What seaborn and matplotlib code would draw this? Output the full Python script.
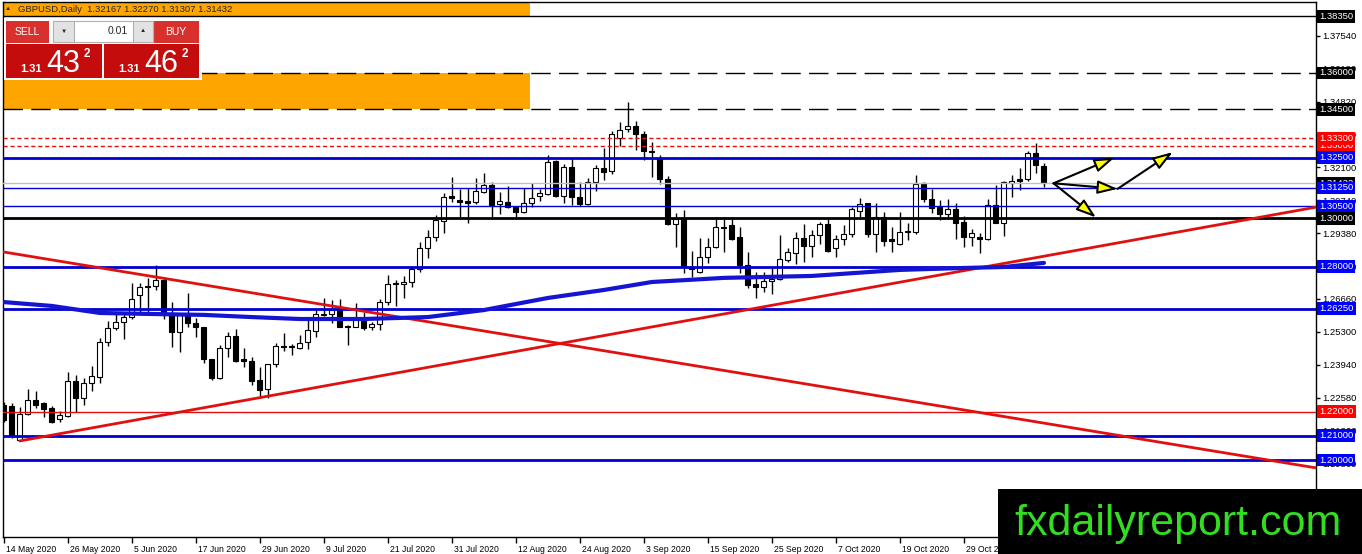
import numpy as np
import pandas as pd
import seaborn as sns
import matplotlib.pyplot as plt
from matplotlib.patches import Rectangle
from matplotlib import transforms

sns.set_style("white")
plt.rcParams['font.family'] = ['Liberation Sans', 'DejaVu Sans']

W, H = 1362, 554

# daily GBPUSD candles, 14 May 2020 .. 12 Nov 2020
opens = [1.2228, 1.2223, 1.2083, 1.2190, 1.2248, 1.2236, 1.2215, 1.2170, 1.2182, 1.2327,
         1.2257, 1.2319, 1.2343, 1.2488, 1.2546, 1.2571, 1.2591, 1.2682, 1.2720, 1.2720,
         1.2744, 1.2600, 1.2529, 1.2600, 1.2567, 1.2550, 1.2418, 1.2339, 1.2463, 1.2513,
         1.2418, 1.2409, 1.2331, 1.2294, 1.2397, 1.2472, 1.2467, 1.2463, 1.2488, 1.2534,
         1.2600, 1.2604, 1.2633, 1.2554, 1.2550, 1.2579, 1.2550, 1.2562, 1.2653, 1.2732,
         1.2728, 1.2736, 1.2790, 1.2877, 1.2922, 1.2988, 1.3092, 1.3075, 1.3071, 1.3067,
         1.3108, 1.3137, 1.3059, 1.3067, 1.3046, 1.3025, 1.3063, 1.3092, 1.3100, 1.3236,
         1.3092, 1.3211, 1.3087, 1.3059, 1.3149, 1.3207, 1.3195, 1.3331, 1.3369, 1.3381,
         1.3348, 1.3278, 1.3249, 1.3162, 1.2976, 1.3001, 1.2798, 1.2777, 1.2839, 1.2881,
         1.2963, 1.2972, 1.2922, 1.2806, 1.2728, 1.2715, 1.2740, 1.2748, 1.2827, 1.2856,
         1.2918, 1.2885, 1.2930, 1.2976, 1.2877, 1.2914, 1.2934, 1.3030, 1.3063, 1.2934,
         1.3005, 1.2914, 1.2893, 1.2943, 1.2943, 1.3145, 1.3079, 1.3046, 1.3017, 1.3038,
         1.2984, 1.2922, 1.2922, 1.2914, 1.3054, 1.2980, 1.3145, 1.3162, 1.3162, 1.3269,
         1.32167]
highs = [1.2240, 1.2236, 1.2219, 1.2294, 1.2285, 1.2240, 1.2223, 1.2203, 1.2364, 1.2352,
         1.2339, 1.2389, 1.2505, 1.2575, 1.2612, 1.2612, 1.2732, 1.2732, 1.2753, 1.2806,
         1.2753, 1.2653, 1.2600, 1.2691, 1.2587, 1.2550, 1.2418, 1.2476, 1.2529, 1.2542,
         1.2463, 1.2426, 1.2385, 1.2399, 1.2484, 1.2525, 1.2480, 1.2517, 1.2591, 1.2620,
         1.2670, 1.2662, 1.2666, 1.2558, 1.2649, 1.2612, 1.2571, 1.2666, 1.2765, 1.2744,
         1.2761, 1.2798, 1.2901, 1.2951, 1.3013, 1.3104, 1.3170, 1.3121, 1.3125, 1.3166,
         1.3187, 1.3149, 1.3108, 1.3133, 1.3050, 1.3125, 1.3145, 1.3121, 1.3261, 1.3240,
         1.3224, 1.3249, 1.3149, 1.3166, 1.3220, 1.3290, 1.3360, 1.3398, 1.3480, 1.3402,
         1.3360, 1.3315, 1.3261, 1.3174, 1.3021, 1.3034, 1.2864, 1.2918, 1.2918, 1.2997,
         1.2997, 1.2997, 1.2963, 1.2860, 1.2777, 1.2777, 1.2798, 1.2930, 1.2877, 1.2943,
         1.2976, 1.2951, 1.2984, 1.2997, 1.2930, 1.2972, 1.3046, 1.3083, 1.3063, 1.3063,
         1.3025, 1.2963, 1.3025, 1.2980, 1.3178, 1.3149, 1.3121, 1.3075, 1.3079, 1.3063,
         1.3009, 1.2955, 1.2939, 1.3079, 1.3137, 1.3154, 1.3178, 1.3207, 1.3278, 1.3311,
         1.32270]
lows = [1.2157, 1.2091, 1.2079, 1.2186, 1.2215, 1.2178, 1.2153, 1.2157, 1.2178, 1.2199,
        1.2228, 1.2285, 1.2319, 1.2472, 1.2538, 1.2500, 1.2583, 1.2608, 1.2608, 1.2703,
        1.2583, 1.2467, 1.2447, 1.2550, 1.2509, 1.2401, 1.2331, 1.2335, 1.2426, 1.2405,
        1.2385, 1.2310, 1.2257, 1.2257, 1.2385, 1.2451, 1.2434, 1.2459, 1.2459, 1.2509,
        1.2596, 1.2567, 1.2548, 1.2476, 1.2548, 1.2538, 1.2538, 1.2538, 1.2641, 1.2637,
        1.2670, 1.2715, 1.2777, 1.2835, 1.2906, 1.2939, 1.3067, 1.3001, 1.2980, 1.3059,
        1.3104, 1.3005, 1.3017, 1.3042, 1.3005, 1.3021, 1.3046, 1.3071, 1.3096, 1.3087,
        1.3063, 1.3054, 1.3050, 1.3054, 1.3112, 1.3158, 1.3183, 1.3298, 1.3356, 1.3282,
        1.3240, 1.3170, 1.3141, 1.2972, 1.2881, 1.2773, 1.2757, 1.2773, 1.2815, 1.2877,
        1.2860, 1.2910, 1.2773, 1.2711, 1.2670, 1.2695, 1.2686, 1.2744, 1.2819, 1.2811,
        1.2819, 1.2839, 1.2893, 1.2860, 1.2839, 1.2889, 1.2922, 1.3005, 1.2922, 1.2860,
        1.2885, 1.2860, 1.2889, 1.2910, 1.2934, 1.3067, 1.3021, 1.2992, 1.3005, 1.2914,
        1.2881, 1.2885, 1.2856, 1.2910, 1.2980, 1.2926, 1.3087, 1.3116, 1.3154, 1.3187,
        1.31307]
closes = [1.2166, 1.2104, 1.2190, 1.2248, 1.2228, 1.2211, 1.2157, 1.2186, 1.2327, 1.2257,
          1.2319, 1.2347, 1.2488, 1.2546, 1.2571, 1.2591, 1.2666, 1.2715, 1.2715, 1.2744,
          1.2600, 1.2529, 1.2600, 1.2567, 1.2550, 1.2418, 1.2339, 1.2463, 1.2513, 1.2409,
          1.2409, 1.2327, 1.2290, 1.2397, 1.2472, 1.2467, 1.2472, 1.2484, 1.2538, 1.2604,
          1.2604, 1.2620, 1.2550, 1.2550, 1.2587, 1.2546, 1.2562, 1.2653, 1.2728, 1.2728,
          1.2736, 1.2790, 1.2877, 1.2922, 1.2992, 1.3087, 1.3083, 1.3067, 1.3063, 1.3112,
          1.3137, 1.3054, 1.3071, 1.3046, 1.3025, 1.3063, 1.3083, 1.3104, 1.3232, 1.3092,
          1.3211, 1.3087, 1.3059, 1.3149, 1.3207, 1.3191, 1.3348, 1.3364, 1.3381, 1.3348,
          1.3278, 1.3273, 1.3162, 1.2976, 1.2997, 1.2802, 1.2790, 1.2839, 1.2881, 1.2963,
          1.2959, 1.2914, 1.2806, 1.2724, 1.2715, 1.2740, 1.2748, 1.2831, 1.2860, 1.2918,
          1.2885, 1.2930, 1.2976, 1.2864, 1.2914, 1.2934, 1.3038, 1.3059, 1.2934, 1.3005,
          1.2906, 1.2906, 1.2943, 1.2947, 1.3141, 1.3079, 1.3042, 1.3017, 1.3038, 1.2980,
          1.2922, 1.2939, 1.2914, 1.3054, 1.2980, 1.3149, 1.3154, 1.3154, 1.3269, 1.3220,
          1.31432]

date_ticks = [0, 8, 16, 24, 32, 40, 48, 56, 64, 72, 80, 88, 96, 104, 112, 120]
date_labels = ["14 May 2020", "26 May 2020", "5 Jun 2020", "17 Jun 2020", "29 Jun 2020",
               "9 Jul 2020", "21 Jul 2020", "31 Jul 2020", "12 Aug 2020", "24 Aug 2020",
               "3 Sep 2020", "15 Sep 2020", "25 Sep 2020", "7 Oct 2020", "19 Oct 2020",
               "29 Oct 2020"]
price_ticks = [1.3754, 1.3618, 1.3482, 1.3346, 1.3210, 1.3074, 1.2938, 1.2802,
               1.2666, 1.2530, 1.2394, 1.2258, 1.2122, 1.1986]

# moving average read at a few candles
ma_idx = [0, 6, 12, 18, 25, 31, 37, 45, 53, 60, 68, 75, 81, 90, 101, 112, 120, 125, 130]
ma_val = [1.2653, 1.2637, 1.2608, 1.2604, 1.2600, 1.2591, 1.2583, 1.2583, 1.2591, 1.2620,
          1.2670, 1.2703, 1.2736, 1.2753, 1.2761, 1.2786, 1.2794, 1.2798, 1.2815]

# horizontal levels: price, colour, width, style
hlines = [(1.3835, 'black', 1, '-'), (1.3600, 'black', 1, (0, (14, 6))),
          (1.3450, 'black', 1, (0, (14, 6))), (1.3330, '#e01010', 1, (0, (3, 2))),
          (1.3300, '#e01010', 1, (0, (3, 2))), (1.3250, '#0000d0', 2, '-'),
          (1.31432, '#c0c0c0', 1, '-'), (1.3125, '#0000d0', 1, '-'),
          (1.3050, '#0000d0', 1, '-'), (1.3000, 'black', 2, '-'),
          (1.2800, '#0000d0', 2, '-'), (1.2625, '#0000d0', 2, '-'),
          (1.2200, '#e01010', 1, '-'), (1.2100, '#0000d0', 2, '-'),
          (1.2000, '#0000d0', 2, '-')]
level_tags = [(1.3835, 'black'), (1.3600, 'black'), (1.3450, 'black'), (1.3300, 'red'),
              (1.3330, 'red'), (1.3250, 'blue'), (1.31432, 'black'), (1.3125, 'blue'),
              (1.3050, 'blue'), (1.3000, 'black'), (1.2800, 'blue'), (1.2625, 'blue'),
              (1.2200, 'red'), (1.2100, 'blue'), (1.2000, 'blue')]

trend_down = ([0, 164.1], [1.2860, 1.1967])
trend_up = ([2, 164.1], [1.2079, 1.3046])
arrows = [((131.2, 1.3144), (138.8, 1.3250)), ((131.2, 1.3144), (139.2, 1.3121)),
          ((139.2, 1.3121), (146.1, 1.3273)), ((131.2, 1.3144), (136.5, 1.3003))]
zones = [(1.3835, 1.3950), (1.3450, 1.3600)]

df = pd.DataFrame({'o': opens, 'h': highs, 'l': lows, 'c': closes})
df['i'] = np.arange(len(df))
df['up'] = df['c'] >= df['o']

fig = plt.figure(figsize=(W / 100, H / 100), dpi=100)
ax = fig.add_axes([3 / W, 17 / H, 1313 / W, 535 / H])
ax.set_xlim(-0.1, 164.0)
ax.set_ylim(1.16818, 1.38935)

for lo, hi in zones:
    ax.add_patch(Rectangle((-1, lo), 66.8, hi - lo, fc='#ffa500', ec='none', zorder=1))

ax.vlines(df['i'], df['l'], df['h'], color='black', lw=1, zorder=4)
ax.bar(df['i'], (df['c'] - df['o']).abs(), bottom=df[['o', 'c']].min(axis=1), width=0.62,
       color=np.where(df['up'], 'white', 'black'), edgecolor='black', lw=0.8, zorder=5)

for lvl, col, lw, ls in hlines:
    ax.axhline(lvl, color=col, lw=lw, ls=ls, zorder=6)

ax.plot(*trend_down, color='#e01010', lw=2, zorder=7)
ax.plot(*trend_up, color='#e01010', lw=2, zorder=7)
sns.lineplot(x=ma_idx, y=ma_val, ax=ax, color='#1414d2', lw=3, zorder=7)

for start, end in arrows:
    ax.annotate('', xy=end, xytext=start, zorder=9,
                arrowprops=dict(arrowstyle='-|>,head_length=0.6,head_width=0.2',
                                mutation_scale=20, fc='#ffff00', ec='black', lw=1.5,
                                shrinkA=0, shrinkB=0))

# axes styling
for sp in ax.spines.values():
    sp.set_color('black')
    sp.set_linewidth(1)
ax.yaxis.tick_right()
ax.set_yticks(price_ticks)
ax.set_yticklabels([f'{t:.5f}' for t in price_ticks], fontsize=6.8)
ax.set_xticks(date_ticks)
ax.set_xticklabels(date_labels, fontsize=6.2, ha='left')
ax.tick_params(axis='y', right=True, left=False, direction='out', length=3, width=1,
               pad=1.5, colors='black')
ax.tick_params(axis='x', bottom=True, direction='out', length=4, width=1, pad=1.5,
               colors='black')
shift = transforms.ScaledTranslation(2 / 100, 0, fig.dpi_scale_trans)
for lab in ax.get_xticklabels():
    lab.set_transform(lab.get_transform() + shift)

tag_col = {'black': '#000000', 'red': '#ff0000', 'blue': '#0000ff'}
for lvl, col in level_tags:
    ax.text(1.0025, lvl, f'{lvl:.5f}', transform=ax.get_yaxis_transform(), fontsize=6.8,
            color='white', va='center', ha='left', zorder=10, clip_on=False,
            bbox=dict(boxstyle='square,pad=0.2', fc=tag_col[col], ec='none'))


# figure-level overlays in pixel coordinates (top-left origin)
def box(x, y, w, h, fc, ec='none'):
    fig.add_artist(Rectangle((x / W, 1 - (y + h) / H), w / W, h / H, transform=fig.transFigure,
                             fc=fc, ec=ec, lw=0.8, zorder=20))


def label(x, y, s, **kw):
    fig.text(x / W, 1 - y / H, s, zorder=30, **kw)


label(5, 9, '▲', fontsize=4.5, va='center')
label(18, 9, 'GBPUSD,Daily  1.32167 1.32270 1.31307 1.31432', fontsize=6.8, va='center')

box(4, 18, 198, 62, 'white')
box(6, 21, 43, 22, '#d8302c')
box(153, 21, 46, 22, '#d8302c')
box(53, 21, 100, 21, 'white', '#b0b0b0')
box(53, 21, 21, 21, '#e2e2e2', '#b0b0b0')
box(133, 21, 20, 21, '#e2e2e2', '#b0b0b0')
box(6, 44, 96, 34, '#c40c0c')
box(104, 44, 95, 34, '#c40c0c')
label(27.5, 32, 'SELL', fontsize=7.5, color='white', ha='center', va='center')
label(176, 32, 'BUY', fontsize=7.5, color='white', ha='center', va='center')
label(63.5, 31, '▼', fontsize=4.5, ha='center', va='center')
label(143, 31, '▲', fontsize=4.5, ha='center', va='center')
label(128, 31.5, '0.01', fontsize=7.5, ha='right', va='center')
label(20, 72, '1.31', fontsize=8, weight='bold', color='white', va='baseline')
label(46, 72, '43', fontsize=22, color='white', va='baseline')
label(84, 57, '2', fontsize=8.5, weight='bold', color='white', va='baseline')
label(118, 72, '1.31', fontsize=8, weight='bold', color='white', va='baseline')
label(144, 72, '46', fontsize=22, color='white', va='baseline')
label(182, 57, '2', fontsize=8.5, weight='bold', color='white', va='baseline')

box(998, 489, 364, 65, 'black')
label(1178, 535, 'fxdailyreport.com', fontsize=31, color='#33dd22', ha='center',
      va='baseline')

fig.savefig('out.png', dpi=100)
